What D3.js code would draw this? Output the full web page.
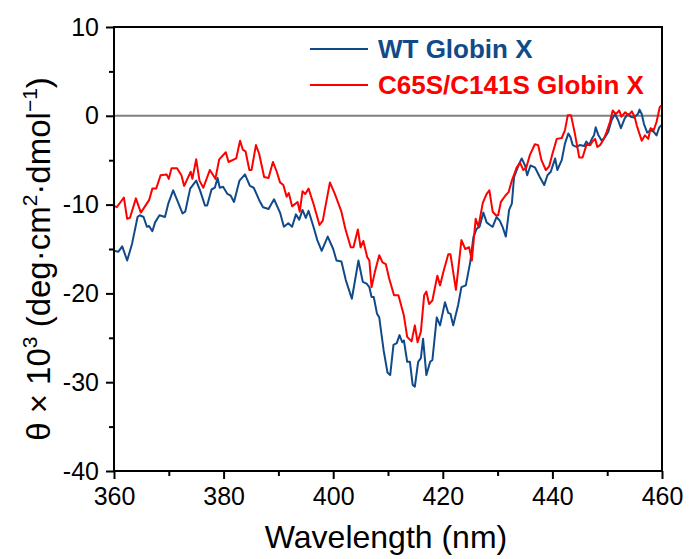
<!DOCTYPE html>
<html>
<head>
<meta charset="utf-8">
<script src="https://cdn.jsdelivr.net/npm/d3@7"></script>
<style>
  body { margin: 0; background: #fff; }
  svg { font-family: "Liberation Sans", Arial, sans-serif; }
</style>
</head>
<body>
<div class="container"></div>
<script>
// data (wavelength in nm, theta x 10^3)
const wtNm = [360, 360.8, 361.5, 362.4, 363.3, 364.3, 364.7, 365.4, 366, 366.4, 367, 367.5, 368.3, 369.3, 369.9, 370.8, 371.6, 372.5, 373, 373.9, 375, 375.7, 376.6, 377, 377.8, 378.4, 378.9, 379.3, 379.9, 380.7, 381.3, 381.9, 382.9, 383.9, 384.8, 385.5, 386.5, 387.2, 388.2, 389.2, 390.3, 391, 391.8, 392.5, 393.2, 393.8, 394.4, 395, 395.5, 396.4, 397.1, 397.9, 399, 400, 400.6, 401.5, 402.3, 403.4, 403.8, 404.6, 405.4, 406.1, 406.6, 407, 407.4, 408, 408.4, 409.2, 409.9, 410.4, 411, 411.6, 412.1, 412.6, 412.9, 413.5, 414, 414.5, 414.9, 415.5, 416, 416.4, 417, 417.7, 418.1, 418.9, 419.5, 420.4, 421, 421.4, 421.9, 422.8, 423.4, 424.2, 425, 425.6, 426.2, 426.7, 427.4, 428, 428.6, 429.1, 429.8, 430.4, 430.9, 431.5, 432.1, 432.6, 433, 433.8, 434.4, 435, 435.4, 436, 436.8, 437.7, 438.5, 439.1, 439.7, 440.5, 440.9, 441.7, 442.3, 442.9, 443.3, 443.7, 444.4, 445, 445.8, 446.2, 446.7, 447.2, 447.6, 447.9, 448.4, 449, 449.6, 450.2, 450.8, 451.4, 452, 452.5, 453.2, 453.8, 454.3, 454.9, 455.6, 455.9, 456.3, 456.7, 457.3, 457.9, 458.5, 459, 459.5, 460];
const wtTheta = [-15.2, -15.3, -14.7, -16.3, -14.4, -11.4, -11.2, -11.4, -12.5, -12.4, -13.0, -12.0, -11.2, -11.4, -9.9, -8.4, -9.6, -11.0, -10.8, -8.2, -7.3, -8.4, -10.1, -10.1, -8.3, -8.1, -7.0, -8.1, -8.0, -8.8, -9.0, -9.7, -7.3, -6.6, -7.9, -8.1, -9.5, -10.3, -10.5, -9.4, -10.9, -12.5, -12.1, -12.5, -11.1, -11.7, -10.6, -11.5, -10.7, -12.5, -14.0, -15.2, -13.6, -15.0, -16.3, -16.4, -18.5, -20.6, -19.2, -16.3, -18.7, -18.9, -19.3, -20.4, -20.4, -22.3, -22.7, -26.4, -28.9, -29.2, -25.8, -25.6, -24.7, -25.5, -25.3, -27.7, -27.7, -30.3, -30.5, -27.7, -27.3, -25.1, -29.2, -27.7, -27.5, -22.7, -23.6, -21.0, -22.2, -22.3, -23.6, -21.3, -19.3, -19.1, -16.5, -13.6, -12.7, -12.5, -10.9, -12.0, -12.3, -12.5, -11.4, -11.8, -12.5, -13.6, -10.6, -9.9, -6.9, -5.6, -4.8, -5.6, -6.7, -5.6, -5.8, -6.9, -7.8, -6.7, -6.3, -4.8, -6.1, -5.0, -3.1, -2.0, -2.4, -3.3, -3.5, -3.3, -3.4, -2.9, -3.3, -2.6, -2.2, -1.3, -2.2, -2.8, -2.4, -1.8, -0.5, 0.2, -0.5, -1.4, -0.3, 0.2, -0.1, -0.2, 0.2, 0.7, 0.2, -0.9, -1.9, -1.6, -1.8, -2.2, -1.3, -1.0];

const mutNm = [360, 360.5, 361.8, 362.4, 362.9, 364, 364.9, 366.4, 367, 367.7, 368.5, 369.6, 370, 370.5, 371.5, 372.3, 372.8, 374, 374.3, 375, 375.6, 376.3, 377.5, 378.5, 379.2, 380.4, 380.9, 382.3, 383, 383.5, 384, 384.7, 385.1, 385.9, 386.5, 387.4, 388.2, 389, 389.7, 390.3, 390.9, 391.5, 391.9, 392.5, 393.5, 393.9, 394.4, 394.9, 395.5, 396.4, 397.5, 398.1, 399.4, 400.3, 401.5, 402.2, 403.2, 403.7, 404.5, 405, 405.5, 406.2, 406.6, 407, 407.6, 408.4, 409, 409.6, 410.2, 411.1, 411.9, 412.3, 412.9, 413.5, 414.3, 414.9, 415.4, 416, 416.6, 417, 417.5, 418.1, 419, 419.5, 420.1, 421, 421.4, 422.4, 423.4, 424.1, 424.8, 425.3, 426, 426.5, 427.3, 428, 428.5, 429.1, 429.7, 430.1, 430.6, 431.4, 432, 432.6, 433.5, 434.1, 434.7, 435.2, 435.9, 436.8, 437.4, 438, 438.8, 439.4, 440, 440.8, 441.7, 442.3, 442.8, 443.4, 444.1, 444.9, 445.5, 446.2, 446.9, 447.3, 447.8, 448.2, 448.7, 449.3, 449.9, 450.5, 451, 451.6, 452.2, 452.6, 453.3, 453.9, 454.5, 455, 455.4, 456.3, 456.9, 457.5, 457.9, 458.5, 459, 459.6, 460];
const mutTheta = [-10.1, -10.3, -9.2, -11.6, -11.5, -9.3, -10.9, -9.5, -8.2, -8.2, -6.7, -6.6, -7.1, -5.9, -5.9, -6.7, -7.9, -6.3, -7.1, -4.9, -7.3, -8.1, -6.1, -7.1, -4.9, -4.1, -5.2, -4.8, -2.8, -3.8, -4.0, -6.1, -6.1, -3.3, -4.3, -6.9, -7.0, -5.2, -6.3, -7.5, -7.8, -9.1, -8.7, -10.2, -9.7, -10.8, -8.5, -8.8, -8.2, -9.9, -12.3, -11.8, -7.5, -8.8, -10.8, -12.7, -14.8, -14.8, -12.8, -14.8, -14.1, -15.9, -16.3, -19.3, -17.6, -15.7, -16.5, -16.7, -18.3, -20.2, -20.2, -21.1, -22.5, -24.9, -25.4, -23.6, -25.5, -24.3, -20.2, -19.8, -21.2, -20.8, -18.0, -19.1, -17.6, -15.6, -15.6, -19.6, -14.0, -15.0, -14.8, -16.3, -11.6, -12.5, -9.8, -8.8, -8.4, -10.8, -11.2, -11.2, -9.7, -9.0, -8.6, -7.3, -5.8, -5.3, -6.1, -5.9, -4.4, -3.2, -3.3, -5.0, -6.1, -5.7, -4.3, -2.6, -2.5, -1.6, 0.05, 0.05, -2.0, -4.7, -4.7, -3.3, -3.3, -2.9, -2.6, -3.5, -3.3, -2.7, -1.8, -0.7, 0.6, 0.2, 0.6, -0.1, 0.4, 0.05, 0.5, -0.1, -1.1, -2.8, -2.2, -2.6, -1.4, -1.6, -0.7, 1.0, 1.2];

const xTicks = [360, 380, 400, 420, 440, 460];
const yTicks = [10, 0, -10, -20, -30, -40];
const seriesNames = ['WT Globin X', 'C65S/C141S Globin X'];

// config
const config = {
  width: 689,
  height: 559,
  margin: { left: 114, right: 27, top: 27, bottom: 88 },
  color: { wt: '#114a89', mut: '#ff0000', zero: '#808080' },
  font: { tick: 25, title: 32, yTitle: 33, sup: 21, legend: 26 }
};

const plotW = config.width - config.margin.left - config.margin.right;
const plotH = config.height - config.margin.top - config.margin.bottom;

const x = d3.scaleLinear().domain([360, 460]).range([0, plotW]);
const y = d3.scaleLinear().domain([-40, 10]).range([plotH, 0]);

const svg = d3.select('.container')
  .append('svg')
  .attr('width', config.width)
  .attr('height', config.height);

const g = svg.append('g')
  .attr('transform', `translate(${config.margin.left},${config.margin.top})`);

// zero line
g.append('line')
  .attr('x1', 0).attr('x2', plotW)
  .attr('y1', y(0)).attr('y2', y(0))
  .attr('stroke', config.color.zero)
  .attr('stroke-width', 2);

// series
const line = d3.line().x(d => x(d[0])).y(d => y(d[1]));
const wtData = wtNm.map((n, i) => [n, wtTheta[i]]);
const mutData = mutNm.map((n, i) => [n, mutTheta[i]]);

g.append('path')
  .attr('d', line(wtData))
  .attr('fill', 'none')
  .attr('stroke', config.color.wt)
  .attr('stroke-width', 2)
  .attr('stroke-linejoin', 'round');

g.append('path')
  .attr('d', line(mutData))
  .attr('fill', 'none')
  .attr('stroke', config.color.mut)
  .attr('stroke-width', 2)
  .attr('stroke-linejoin', 'round');

// frame
g.append('rect')
  .attr('width', plotW).attr('height', plotH)
  .attr('fill', 'none')
  .attr('stroke', '#000')
  .attr('stroke-width', 2);

// axes (major + minor ticks), plain hyphen for negatives like the original
const fmt = d => String(d);

function styleAxis(sel) {
  sel.select('.domain').remove();
  sel.selectAll('line').attr('stroke', '#000').attr('stroke-width', 2);
  sel.selectAll('text')
    .attr('font-size', config.font.tick)
    .attr('fill', '#000');
}

g.append('g')
  .attr('transform', `translate(0,${plotH})`)
  .call(d3.axisBottom(x).tickValues(xTicks).tickSize(8).tickPadding(8).tickFormat(fmt))
  .call(styleAxis);

g.append('g')
  .attr('transform', `translate(0,${plotH})`)
  .call(d3.axisBottom(x).tickValues(xTicks.slice(1).map(t => t - 10)).tickSize(5).tickFormat(''))
  .call(styleAxis);

g.append('g')
  .call(d3.axisLeft(y).tickValues(yTicks).tickSize(8).tickPadding(7).tickFormat(fmt))
  .call(styleAxis);

g.append('g')
  .call(d3.axisLeft(y).tickValues(yTicks.slice(1).map(t => t + 5)).tickSize(5).tickFormat(''))
  .call(styleAxis);

// axis titles
svg.append('text')
  .attr('x', config.margin.left + plotW / 2 - 2)
  .attr('y', 548)
  .attr('text-anchor', 'middle')
  .attr('font-size', config.font.title)
  .text('Wavelength (nm)');

const yTitle = svg.append('text')
  .attr('transform', `translate(50,${config.margin.top + plotH / 2 + 10}) rotate(-90)`)
  .attr('text-anchor', 'middle')
  .attr('font-size', config.font.yTitle);
yTitle.append('tspan').text('θ × 10');
yTitle.append('tspan').attr('font-size', config.font.sup).attr('dy', -13).text('3');
yTitle.append('tspan').attr('dy', 13).text(' (deg·cm');
yTitle.append('tspan').attr('font-size', config.font.sup).attr('dy', -13).text('2');
yTitle.append('tspan').attr('dy', 13).text('·dmol');
yTitle.append('tspan').attr('font-size', config.font.sup).attr('dy', -13).text('−1');
yTitle.append('tspan').attr('dy', 13).text(')');

// legend
const legend = svg.append('g');
const legendColors = [config.color.wt, config.color.mut];
const legendY = [49, 85];
seriesNames.forEach((name, i) => {
  legend.append('line')
    .attr('x1', 310).attr('x2', 368)
    .attr('y1', legendY[i]).attr('y2', legendY[i])
    .attr('stroke', legendColors[i])
    .attr('stroke-width', 2);
  legend.append('text')
    .attr('x', 378)
    .attr('y', legendY[i] + 9)
    .attr('font-size', config.font.legend)
    .attr('font-weight', 'bold')
    .attr('fill', legendColors[i])
    .text(name);
});
</script>
</body>
</html>
